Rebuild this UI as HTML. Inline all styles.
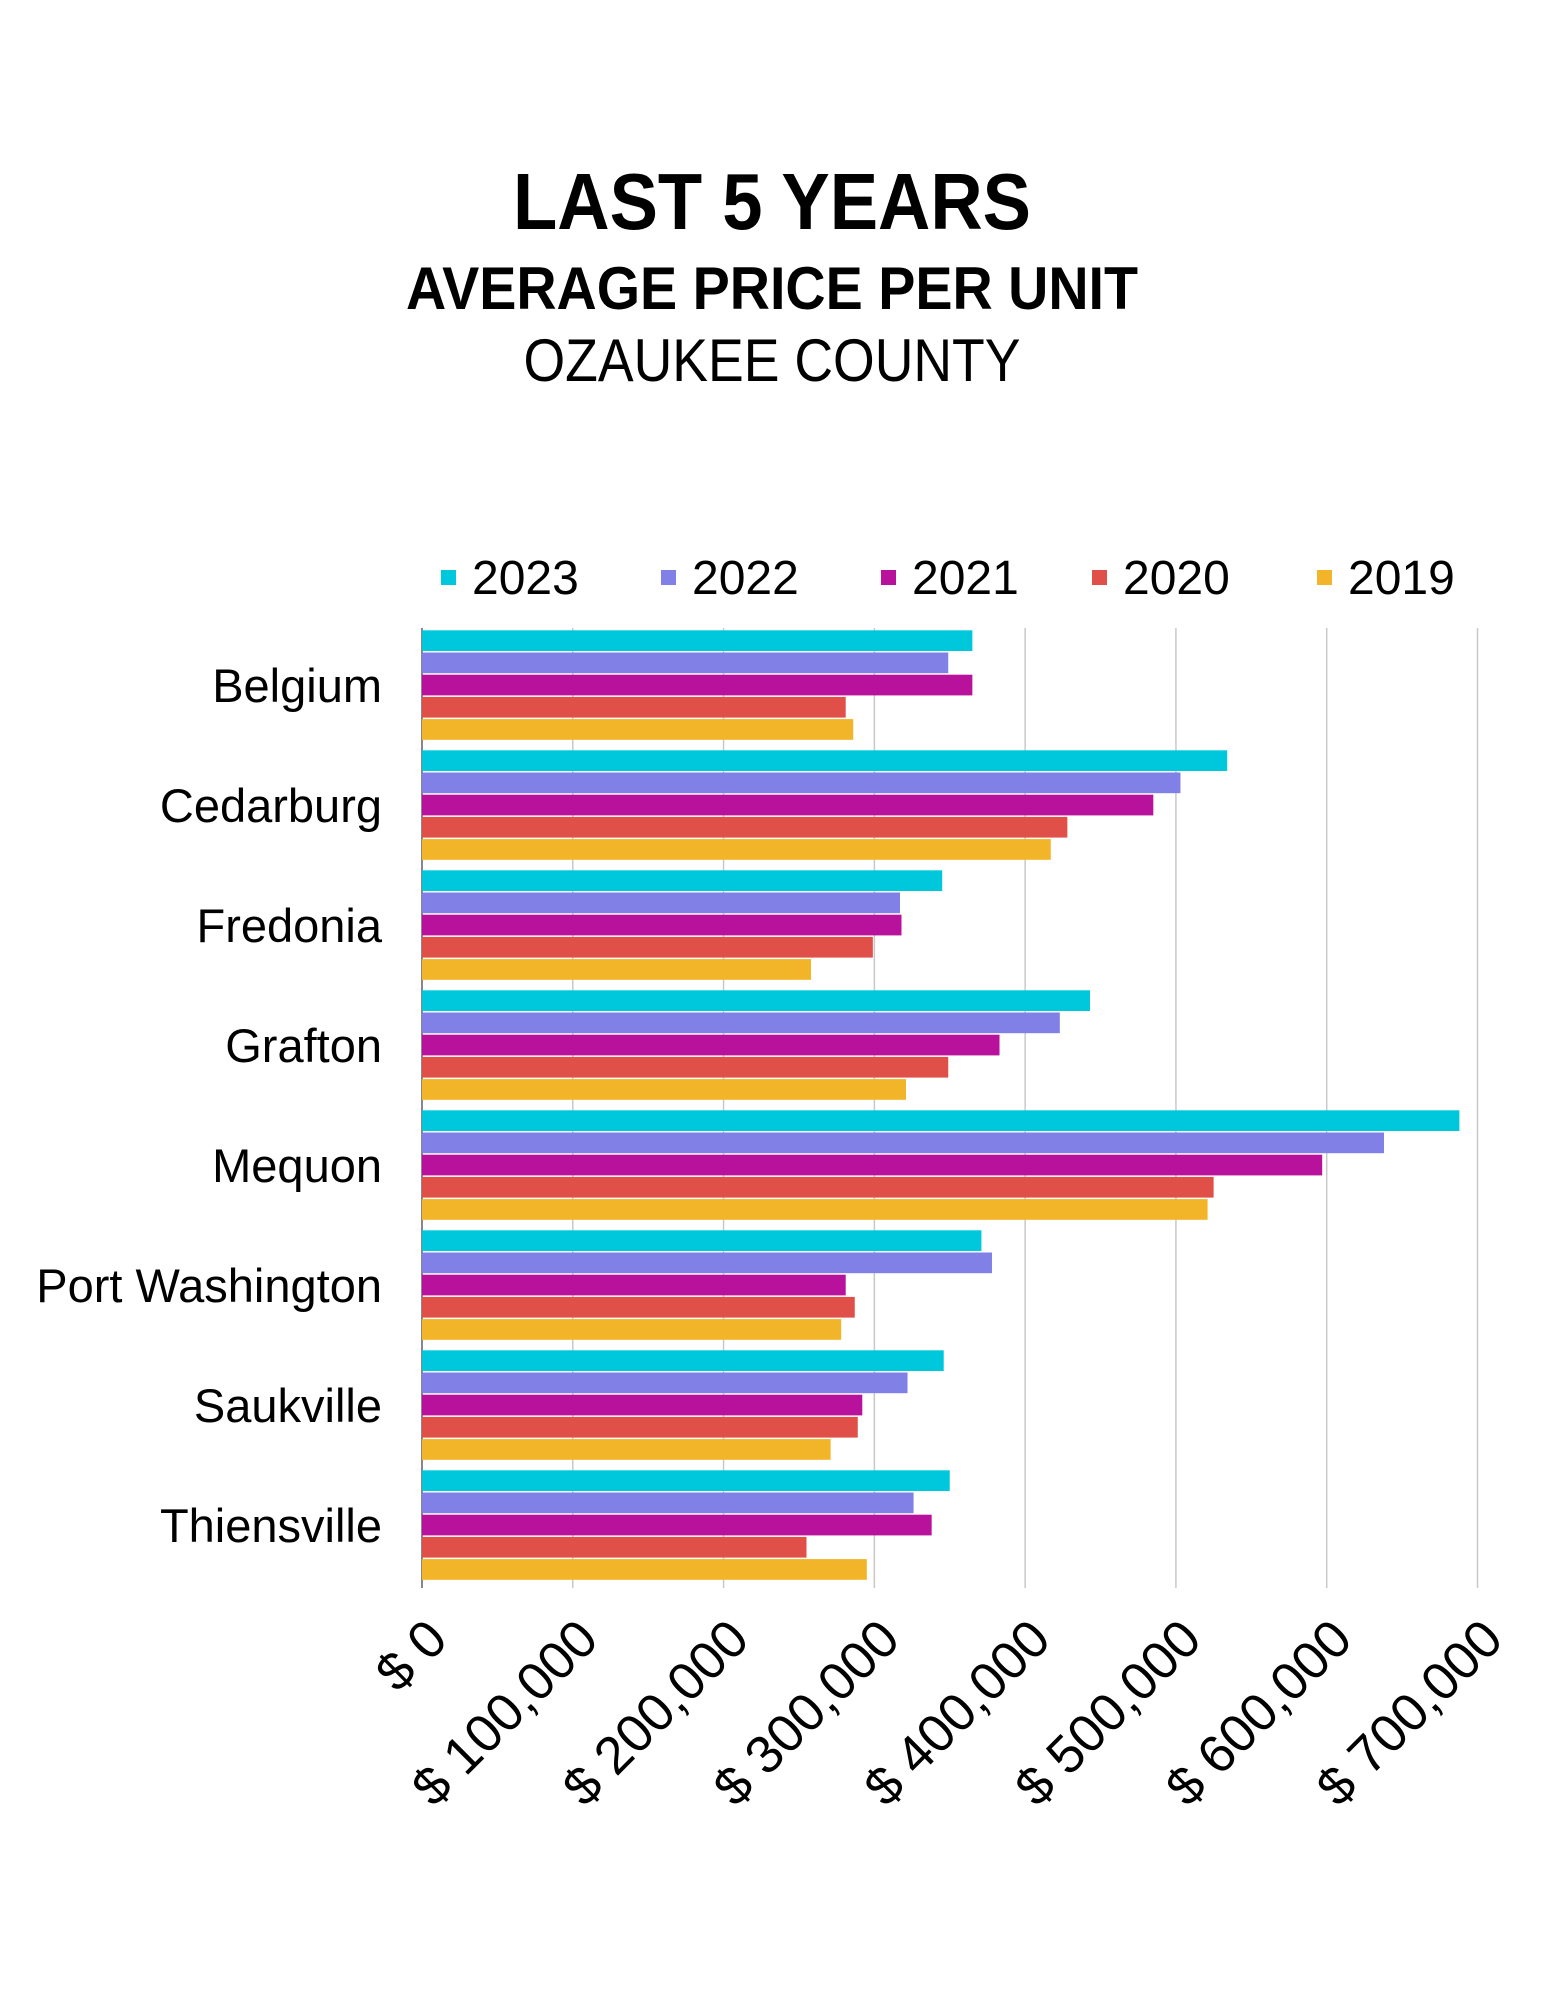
<!DOCTYPE html>
<html><head><meta charset="utf-8"><style>
body{margin:0;background:#fff;}
svg{display:block;font-family:"Liberation Sans",sans-serif;}
</style></head><body>
<svg id="chart" width="1545" height="2000" viewBox="0 0 1545 2000" xmlns="http://www.w3.org/2000/svg">
<rect width="1545" height="2000" fill="#fff"/>
<text x="772" y="229" text-anchor="middle" font-size="80" font-weight="bold" textLength="518" lengthAdjust="spacingAndGlyphs">LAST 5 YEARS</text>
<text x="772" y="309" text-anchor="middle" font-size="60" font-weight="bold" textLength="732" lengthAdjust="spacingAndGlyphs">AVERAGE PRICE PER UNIT</text>
<text x="772" y="381" text-anchor="middle" font-size="60" textLength="497" lengthAdjust="spacingAndGlyphs">OZAUKEE COUNTY</text>
<g id="grid"></g><g id="bars"></g><g id="legend"></g><g id="cats"></g><g id="ticks"></g>
</svg>
<script>
const categories = ["Belgium","Cedarburg","Fredonia","Grafton","Mequon","Port Washington","Saukville","Thiensville"];
const seriesNames = ["2023","2022","2021","2020","2019"];
const v2023 = [365000,534000,345000,443000,688000,371000,346000,350000];
const v2022 = [349000,503000,317000,423000,638000,378000,322000,326000];
const v2021 = [365000,485000,318000,383000,597000,281000,292000,338000];
const v2020 = [281000,428000,299000,349000,525000,287000,289000,255000];
const v2019 = [286000,417000,258000,321000,521000,278000,271000,295000];
const tickValues = [0,100000,200000,300000,400000,500000,600000,700000];
const tickLabels = ["$ 0","$ 100,000","$ 200,000","$ 300,000","$ 400,000","$ 500,000","$ 600,000","$ 700,000"];
const colors = ["#00c8dc","#8080e6","#b8129c","#e05048","#f2b428"];

const NS="http://www.w3.org/2000/svg";
const X0=422, X1=1477.5, TOP=628, BOT=1588;
const x=v=>X0+(v/700000)*(X1-X0);
const band=(BOT-TOP)/categories.length;
function mk(tag,attrs,parent){const e=document.createElementNS(NS,tag);for(const k in attrs)e.setAttribute(k,attrs[k]);document.getElementById(parent).appendChild(e);return e;}
tickValues.forEach((t,i)=>{
  const gx=x(t);
  const g=mk('line',{x1:gx,x2:gx,y1:TOP,y2:BOT,stroke:i==0?'#888':'#c8c8c8','stroke-width':i==0?2:1.5},'grid');
  
  
  const tx=gx+28, ty=1642;
  const tl=mk('text',{x:tx,y:ty,'text-anchor':'end','font-size':53,transform:`rotate(-45 ${tx} ${ty})`},'ticks');
  tl.textContent=tickLabels[i];
  
  
});
const all=[v2023,v2022,v2021,v2020,v2019];
const bh=22.2, gap=0.3;
categories.forEach((c,ci)=>{
  const y0=TOP+ci*band+2;
  all.forEach((s,si)=>{
    const r=mk('rect',{x:X0,y:y0+si*bh+gap,width:x(s[ci])-X0,height:bh-1.5,fill:colors[si]},'bars');
    
    
  });
  const t=mk('text',{x:382,y:TOP+ci*band+band/2+14,'text-anchor':'end','font-size':47},'cats');
  t.textContent=c;
  
  
});
const legX=[441,661,881,1092,1317];
seriesNames.forEach((n,i)=>{
  const m=mk('rect',{x:legX[i],y:570,width:15,height:15,fill:colors[i]},'legend');
  
  
  const t=mk('text',{x:legX[i]+31,y:594,'font-size':48},'legend');
  t.textContent=n;
  
  
});
</script>
</body></html>
